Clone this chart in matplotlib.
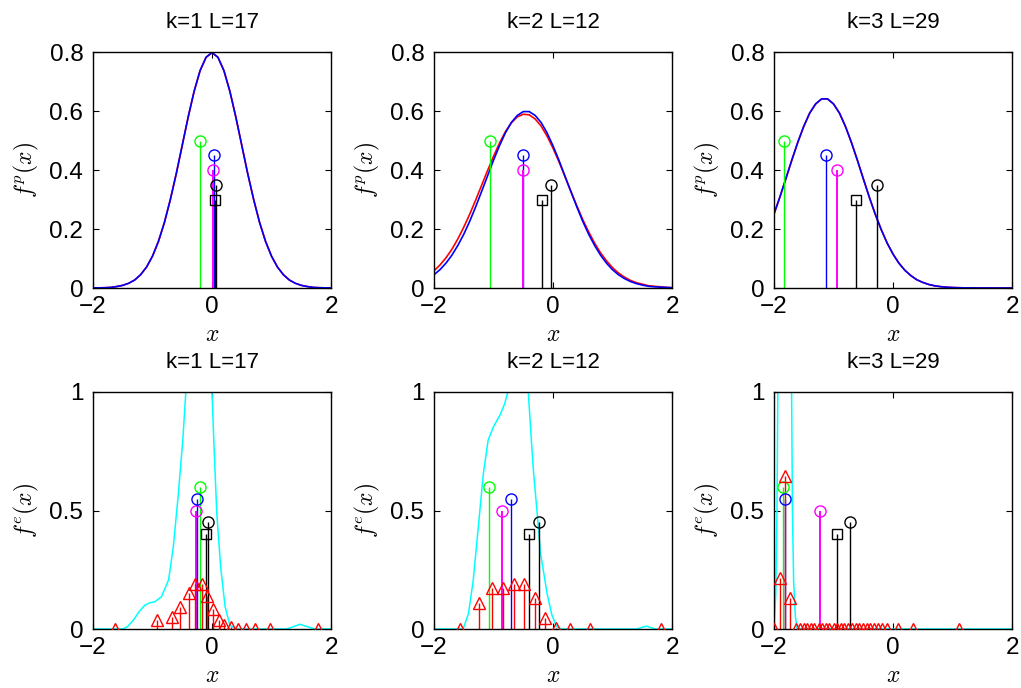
#!/usr/bin/env python3
"""Densities f^p(x) and f^e(x) for k=1..3 with stem markers."""

import matplotlib

matplotlib.use("Agg")
import matplotlib.pyplot as plt
import numpy as np

plt.rcParams["font.family"] = ["Liberation Sans", "DejaVu Sans"]
plt.rcParams["mathtext.fontset"] = "cm"

TITLES = ["k=1 L=17", "k=2 L=12", "k=3 L=29"]

# ---- top row: f^p(x), sampled on x = -2..2 step 0.1 ----
XS_TOP = np.round(np.arange(-2.0, 2.0001, 0.1), 2)

FP1_RED = [0.0003, 0.0005, 0.001, 0.002, 0.005, 0.009, 0.016, 0.027, 0.045, 0.071, 0.108,
           0.158, 0.222, 0.300, 0.388, 0.484, 0.580, 0.667, 0.737, 0.782, 0.798, 0.782,
           0.737, 0.667, 0.580, 0.484, 0.388, 0.300, 0.222, 0.158, 0.108, 0.071, 0.045,
           0.027, 0.016, 0.009, 0.005, 0.002, 0.001, 0.0005, 0.0003]
FP1_BLUE = FP1_RED

FP2_RED = [0.058, 0.078, 0.102, 0.131, 0.166, 0.206, 0.250, 0.298, 0.348, 0.398, 0.446,
           0.491, 0.530, 0.560, 0.580, 0.589, 0.587, 0.573, 0.549, 0.515, 0.474, 0.428,
           0.378, 0.328, 0.279, 0.232, 0.190, 0.152, 0.119, 0.092, 0.069, 0.051, 0.037,
           0.026, 0.018, 0.013, 0.008, 0.006, 0.004, 0.002, 0.001]
FP2_BLUE = [0.045, 0.062, 0.084, 0.111, 0.144, 0.182, 0.226, 0.275, 0.327, 0.380, 0.433,
            0.482, 0.526, 0.561, 0.585, 0.598, 0.598, 0.585, 0.561, 0.526, 0.482, 0.433,
            0.380, 0.327, 0.275, 0.226, 0.182, 0.144, 0.111, 0.084, 0.062, 0.045, 0.032,
            0.022, 0.015, 0.010, 0.006, 0.004, 0.003, 0.002, 0.001]

FP3_BLUE = [0.251, 0.309, 0.371, 0.434, 0.494, 0.548, 0.593, 0.624, 0.641, 0.641, 0.624,
            0.593, 0.548, 0.494, 0.434, 0.371, 0.309, 0.251, 0.199, 0.153, 0.115, 0.084,
            0.060, 0.042, 0.028, 0.019, 0.012, 0.0075, 0.0046, 0.0027, 0.0016, 0.0009,
            0.0005, 0.0003, 0.0002, 0.0001, 0.0001, 0.0, 0.0, 0.0, 0.0]
FP3_RED = FP3_BLUE

# stems (top row): green, blue, magenta circles; black square; black circle
TOP_STEMS = [
    {"green": (-0.20, 0.50), "blue": (0.03, 0.45), "magenta": (0.02, 0.40),
     "black_s": (0.045, 0.30), "black_o": (0.07, 0.35)},
    {"green": (-1.06, 0.50), "blue": (-0.50, 0.45), "magenta": (-0.50, 0.40),
     "black_s": (-0.19, 0.30), "black_o": (-0.03, 0.35)},
    {"green": (-1.84, 0.50), "blue": (-1.13, 0.45), "magenta": (-0.94, 0.40),
     "black_s": (-0.63, 0.30), "black_o": (-0.27, 0.35)},
]

# ---- bottom row: f^e(x) ----
FE1_X = [-2.0, -1.5, -1.42, -1.32, -1.22, -1.13, -1.05, -0.96, -0.85, -0.73, -0.65, -0.57,
         -0.49, -0.44, -0.35, -0.22, -0.1, 0.0, 0.034, 0.08, 0.146, 0.22, 0.30, 0.4, 1.25,
         1.35, 1.48, 1.6, 1.73, 2.0]
FE1_Y = [0.0, 0.0, 0.01, 0.038, 0.075, 0.10, 0.11, 0.115, 0.136, 0.207, 0.347, 0.558, 0.8,
         1.0, 1.6, 2.2, 1.6, 1.0, 0.77, 0.49, 0.26, 0.094, 0.017, 0.0, 0.0, 0.008, 0.02,
         0.01, 0.0, 0.0]

FE2_X = [-2.0, -1.51, -1.42, -1.34, -1.26, -1.17, -1.09, -1.0, -0.89, -0.81, -0.76, -0.6,
         -0.415, -0.375, -0.33, -0.27, -0.21, -0.1, -0.02, 0.06, 0.14, 1.4, 1.57, 1.72, 2.0]
FE2_Y = [0.0, 0.0, 0.066, 0.207, 0.418, 0.657, 0.797, 0.854, 0.903, 0.952, 1.0, 1.3, 1.0,
         0.84, 0.67, 0.5, 0.32, 0.15, 0.06, 0.01, 0.0, 0.0, 0.012, 0.0, 0.0]

FE3_X = [-2.0, -1.97, -1.95, -1.93, -1.82, -1.71, -1.69, -1.67, -1.64, -1.61, 2.0]
FE3_Y = [0.0, 0.15, 0.5, 1.2, 3.0, 1.2, 0.5, 0.2, 0.05, 0.0, 0.0]

BOTTOM_STEMS = [
    {"green": (-0.21, 0.60), "magenta": (-0.27, 0.50), "blue": (-0.26, 0.55),
     "black_s": (-0.105, 0.40), "black_o": (-0.07, 0.45)},
    {"green": (-1.07, 0.60), "blue": (-0.70, 0.55), "magenta": (-0.86, 0.50),
     "black_s": (-0.40, 0.40), "black_o": (-0.24, 0.45)},
    {"green": (-1.85, 0.60), "blue": (-1.81, 0.55), "magenta": (-1.23, 0.50),
     "black_s": (-0.94, 0.40), "black_o": (-0.72, 0.45)},
]

TRI1_X = [-1.63, -0.92, -0.68, -0.53, -0.39, -0.29, -0.17, -0.08, 0.02, 0.11, 0.21, 0.32,
          0.43, 0.57, 0.73, 0.97, 1.78]
TRI1_Y = [0.0, 0.04, 0.05, 0.094, 0.153, 0.19, 0.19, 0.14, 0.083, 0.04, 0.017, 0.008,
          0.0, 0.0, 0.0, 0.0, 0.0]

TRI2_X = [-1.56, -1.25, -1.03, -0.84, -0.65, -0.49, -0.31, -0.14, 0.05, 0.29, 0.63, 1.81]
TRI2_Y = [0.0, 0.108, 0.175, 0.175, 0.19, 0.19, 0.13, 0.048, 0.005, 0.0, 0.0, 0.0]

TRI3_X = [-2.0, -1.90, -1.81, -1.73, -1.63, -1.57, -1.50, -1.44, -1.38, -1.32, -1.25, -1.19,
          -1.13, -1.07, -1.00, -0.94, -0.88, -0.82, -0.75, -0.69, -0.63, -0.57, -0.50, -0.44,
          -0.38, -0.32, -0.25, -0.19, -0.10, 0.09, 0.34, 1.11]
TRI3_Y = [0.0, 0.214, 0.646, 0.13, 0.0, 0.0, 0.0, 0.0, 0.0, 0.0, 0.0, 0.0, 0.0, 0.0, 0.0,
          0.0, 0.0, 0.0, 0.0, 0.0, 0.0, 0.0, 0.0, 0.0, 0.0, 0.0, 0.0, 0.0, 0.0, 0.0, 0.0, 0.0]

STEM_STYLES = {
    "green": ("#00ff00", "o"),
    "blue": ("#0000ff", "o"),
    "magenta": ("#ff00ff", "o"),
    "black_s": ("#000000", "s"),
    "black_o": ("#000000", "o"),
}

COL_LEFT = [93, 434, 774]
AX_W = 238
FIG_W, FIG_H = 1021, 688


def stem(ax, x, y, color, marker, ms=7.5, lw=1.0):
    markerline, stemlines, baseline = ax.stem(x, y, basefmt=" ")
    stemlines.set_color(color)
    stemlines.set_linewidth(lw)
    markerline.set_marker(marker)
    markerline.set_markersize(ms)
    markerline.set_markerfacecolor("none")
    markerline.set_markeredgecolor(color)
    markerline.set_markeredgewidth(1.0)
    markerline.set_zorder(4)


def style_axes(ax, title, ylabel, yticks, yticklabels, ylim):
    ax.set_xlim(-2, 2)
    ax.set_ylim(*ylim)
    ax.set_xticks([-2, 0, 2])
    ax.set_xticklabels(["\u22122", "0", "2"])
    ax.set_yticks(yticks)
    ax.set_yticklabels(yticklabels)
    ax.tick_params(direction="in", length=4, width=0.8, top=True, right=True,
                   labelsize=17.5)
    ax.tick_params(axis="x", pad=6)
    ax.tick_params(axis="y", pad=7)
    for spine in ax.spines.values():
        spine.set_linewidth(1.0)
    ax.set_title(title, fontsize=16, pad=17)
    ax.set_xlabel("$x$", fontsize=17, labelpad=4)
    ax.set_ylabel(ylabel, fontsize=17, labelpad=6)


def draw_stems(ax, stems):
    for key, (x, y) in stems.items():
        color, marker = STEM_STYLES[key]
        lw = 1.4 if key == "magenta" else 1.0
        stem(ax, [x], [y], color, marker, ms=6.5 if marker == "s" else 8, lw=lw)


def main() -> None:
    fig = plt.figure(figsize=(FIG_W / 100, FIG_H / 100), dpi=100)

    top_curves = [(FP1_RED, FP1_BLUE), (FP2_RED, FP2_BLUE), (FP3_RED, FP3_BLUE)]
    for i in range(3):
        ax = fig.add_axes([COL_LEFT[i] / FIG_W, 1 - 288 / FIG_H, AX_W / FIG_W, 236 / FIG_H])
        red, blue = top_curves[i]
        ax.plot(XS_TOP, red, color="#ff0000", lw=1.2, zorder=2)
        ax.plot(XS_TOP, blue, color="#0000ff", lw=1.2, zorder=2)
        draw_stems(ax, TOP_STEMS[i])
        style_axes(ax, TITLES[i], "$f^p(x)$", [0, 0.2, 0.4, 0.6, 0.8],
                   ["0", "0.2", "0.4", "0.6", "0.8"], (0, 0.8))

    bottom_curves = [(FE1_X, FE1_Y), (FE2_X, FE2_Y), (FE3_X, FE3_Y)]
    tris = [(TRI1_X, TRI1_Y), (TRI2_X, TRI2_Y), (TRI3_X, TRI3_Y)]
    for i in range(3):
        ax = fig.add_axes([COL_LEFT[i] / FIG_W, 1 - 629 / FIG_H, AX_W / FIG_W, 237 / FIG_H])
        cx, cy = bottom_curves[i]
        ax.plot(cx, cy, color="#00ffff", lw=1.1, zorder=2)
        draw_stems(ax, BOTTOM_STEMS[i])
        tx, ty = tris[i]
        stem(ax, tx, ty, "#ff0000", "^", ms=8.5)
        style_axes(ax, TITLES[i], "$f^e(x)$", [0, 0.5, 1], ["0", "0.5", "1"], (0, 1))

    fig.savefig("out.png", dpi=100)
    plt.close(fig)


if __name__ == "__main__":
    main()
